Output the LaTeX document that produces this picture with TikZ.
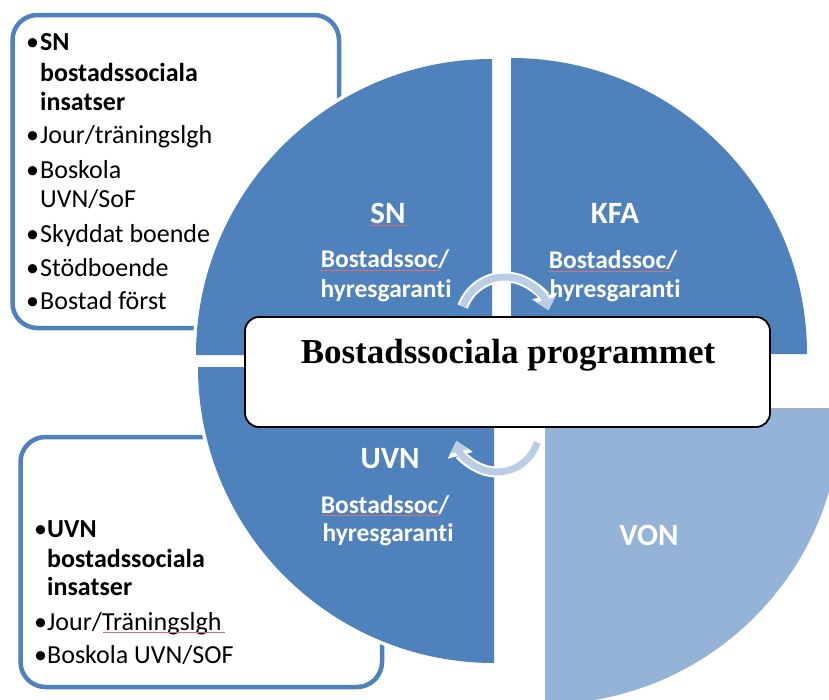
\documentclass[tikz,border=0pt]{standalone}
\usepackage{fontspec}
\setmainfont{Carlito}[Ligatures=NoCommon]
\newfontfamily\titlefont{Liberation Serif}
\usetikzlibrary{arrows.meta}
\definecolor{pieblue}{RGB}{79,129,189}
\definecolor{pielight}{RGB}{149,179,215}
\definecolor{arrowblue}{RGB}{185,205,229}
\definecolor{squig}{RGB}{225,110,110}
\begin{document}
\begin{tikzpicture}[x=1pt,y=-1pt,
  sidebox/.style={draw=pieblue, line width=4.5pt, rounded corners=25pt, fill=white},
  halo/.style={draw=white, line width=7pt},
  boxtxt/.style={anchor=base west, inner sep=0pt, font=\fontsize{26}{30}\selectfont},
  boxbold/.style={boxtxt, font=\bfseries\fontsize{26}{30}\selectfont},
  pietitle/.style={anchor=base, inner sep=0pt, text=white, font=\bfseries\fontsize{31}{36}\selectfont},
  piesub/.style={anchor=base, inner sep=0pt, text=white, font=\bfseries\fontsize{25.5}{30}\selectfont},
  squigline/.style={draw=squig, line width=0.8pt},
  arrowout/.style={draw=white, line width=11pt, -{Triangle[width=25pt,length=15pt]}},
  arrowin/.style={draw=arrowblue, line width=7pt, -{Triangle[width=19pt,length=11pt]}}
]
\useasboundingbox (0,0) rectangle (829,699);
\clip (0,0) rectangle (829,699);
\fill[white] (0,0) rectangle (829,699);

% side boxes
\draw[sidebox] (12.5,15) rectangle (339,328);
\draw[sidebox] (20.5,437) rectangle (382,687);

% halos of the pie quadrants
\draw[halo] (492,355) -- (196,355) arc[start angle=180, end angle=270, radius=296] -- cycle;
\draw[halo] (511,354) -- (511,58) arc[start angle=270, end angle=360, radius=296] -- cycle;
\draw[halo] (494,367) -- (494,663) arc[start angle=90, end angle=180, radius=296] -- cycle;
\draw[halo] (545,408) -- (841,408) arc[start angle=0, end angle=90, radius=296] -- cycle;

% pie quadrants
\fill[pieblue] (492,355) -- (196,355) arc[start angle=180, end angle=270, radius=296] -- cycle;
\fill[pieblue] (511,354) -- (511,58) arc[start angle=270, end angle=360, radius=296] -- cycle;
\fill[pieblue] (494,367) -- (494,663) arc[start angle=90, end angle=180, radius=296] -- cycle;
\fill[pielight] (545,408) -- (841,408) arc[start angle=0, end angle=90, radius=296] -- cycle;

% SN box text
\node[boxtxt] (snb1) at (26,50) {•};
\node[boxbold] (sn1) at (40,50) {SN};
\node[boxbold] (sn2) at (40,81) {bostadssociala};
\node[boxbold] (sn3) at (40,110) {insatser};
\node[boxtxt] (snb2) at (26,143) {•};
\node[boxtxt] (sn4) at (40,143) {Jour/träningslgh};
\node[boxtxt] (snb3) at (26,178) {•};
\node[boxtxt] (sn5) at (40,178) {Boskola};
\node[boxtxt] (sn6) at (40,207) {UVN/SoF};
\node[boxtxt] (snb4) at (26,242) {•};
\node[boxtxt] (sn7) at (40,242) {Skyddat boende};
\node[boxtxt] (snb5) at (26,276) {•};
\node[boxtxt] (sn8) at (40,276) {Stödboende};
\node[boxtxt] (snb6) at (26,309) {•};
\node[boxtxt] (sn9) at (40,309) {Bostad först};

% UVN box text
\node[boxtxt] (uvb1) at (34,537) {•};
\node[boxbold] (uv1) at (47,537) {UVN};
\node[boxbold] (uv2) at (47,567) {bostadssociala};
\node[boxbold] (uv3) at (47,595) {insatser};
\node[boxtxt] (uvb2) at (34,630) {•};
\node[boxtxt] (uv4) at (47,630) {Jour/Träningslgh};
\node[boxtxt] (uvb3) at (34,663) {•};
\node[boxtxt] (uv5) at (47,663) {Boskola UVN/SOF};
\draw[squigline] (103,632) -- (225,632);

% pie labels
\node[pietitle] (snt) at (388,223) {SN};
\node[piesub] (sns1) at (385,267) {Bostadssoc/};
\node[piesub] (sns2) at (386,297) {hyresgaranti};
\node[pietitle] (kft) at (615,223) {KFA};
\node[piesub] (kfs1) at (613,268) {Bostadssoc/};
\node[piesub] (kfs2) at (615,297) {hyresgaranti};
\node[pietitle] (uvt) at (390,468) {UVN};
\node[piesub] (uvs1) at (385,513) {Bostadssoc/};
\node[piesub] (uvs2) at (388,541) {hyresgaranti};
\node[pietitle] (vot) at (649,545) {VON};
\draw[squigline] (370,225) -- (407,225);
\draw[squigline] (320,270) -- (440,270);
\draw[squigline] (548,271) -- (672,271);
\draw[squigline] (322,515) -- (440,515);

% central box
\node[draw=black, line width=1.8pt, rounded corners=14pt, fill=white,
      minimum width=525pt, minimum height=110pt, inner sep=0pt] (prog) at (507.5,372) {};
\node[anchor=base, inner sep=0pt, font=\titlefont\bfseries\fontsize{35}{40}\selectfont] (progtxt) at (508,363) {Bostadssociala programmet};

% cycle arrows
\draw[arrowout] (505,322) ++(200:45) arc[start angle=200, end angle=345, radius=45];
\draw[arrowin] (505,322) ++(200:45) arc[start angle=200, end angle=345, radius=45];
\draw[arrowout] (497,430) ++(17:42) arc[start angle=17, end angle=165, radius=42];
\draw[arrowin] (497,430) ++(17:42) arc[start angle=17, end angle=165, radius=42];
\end{tikzpicture}
\end{document}
